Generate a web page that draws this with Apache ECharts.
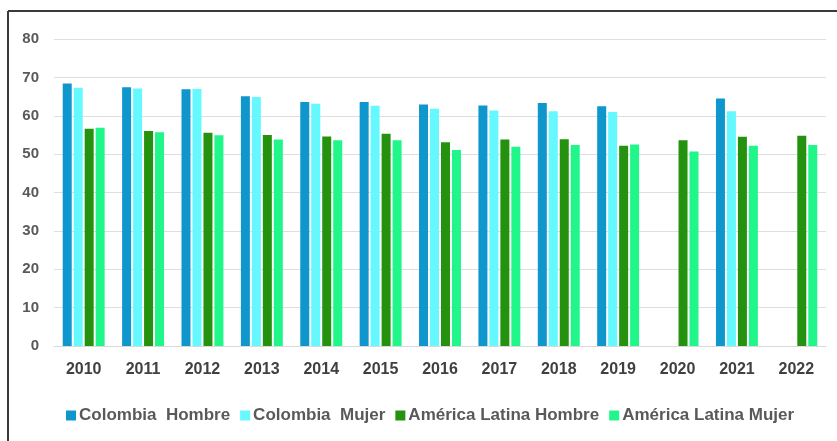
<!DOCTYPE html>
<html>
<head>
<meta charset="utf-8">
<script src="https://cdn.jsdelivr.net/npm/echarts@6/dist/echarts.min.js"></script>
<style>html,body{margin:0;padding:0;background:#fff}#c{width:837px;height:441px}</style>
</head>
<body>
<div id="c"></div>
<script>
var years = ['2010','2011','2012','2013','2014','2015','2016','2017','2018','2019','2020','2021','2022'];
var colombiaHombre = [68.4, 67.4, 66.9, 65.1, 63.6, 63.6, 62.9, 62.7, 63.3, 62.5, null, 64.5, null];
var colombiaMujer  = [67.3, 67.1, 67.0, 64.9, 63.1, 62.6, 61.8, 61.4, 61.2, 61.0, null, 61.2, null];
var alHombre       = [56.6, 56.0, 55.6, 55.0, 54.6, 55.3, 53.1, 53.8, 53.9, 52.2, 53.6, 54.5, 54.8];
var alMujer        = [56.9, 55.7, 54.9, 53.8, 53.6, 53.6, 51.1, 51.9, 52.4, 52.5, 50.7, 52.2, 52.4];
var seriesNames = ['Colombia  Hombre', 'Colombia  Mujer', 'América Latina Hombre', 'América Latina Mujer'];
var yTicks = [0, 10, 20, 30, 40, 50, 60, 70, 80];

var colors = ['#0f96cc', '#66f8ff', '#24920f', '#20f68a'];
var font = '"Liberation Sans", Arial, sans-serif';
var dataSets = [colombiaHombre, colombiaMujer, alHombre, alMujer];

var chart = echarts.init(document.getElementById('c'), null, {renderer: 'canvas'});
chart.setOption({
  animation: false,
  backgroundColor: '#ffffff',
  color: colors,
  grid: {left: 54, right: 11, top: 39, bottom: 95, containLabel: false},
  legend: {
    left: 61, top: 402,
    icon: 'rect', itemWidth: 10, itemHeight: 10, itemGap: 10,
    textStyle: {fontFamily: font, fontWeight: 'bold', fontSize: 17, color: '#595959', padding: [0, 0, 0, -2]},
    data: seriesNames
  },
  xAxis: {
    type: 'category', data: years,
    axisLine: {show: true, lineStyle: {color: '#d9d9d9', width: 1}},
    axisTick: {show: false},
    axisLabel: {fontFamily: font, fontWeight: 'bold', fontSize: 16, color: '#404040', margin: 16}
  },
  yAxis: {
    type: 'value', min: yTicks[0], max: yTicks[yTicks.length - 1], interval: 10,
    axisLine: {show: false}, axisTick: {show: false},
    splitLine: {lineStyle: {color: '#dedede', width: 1}},
    axisLabel: {fontFamily: font, fontWeight: 'bold', fontSize: 15, color: '#595959', margin: 15}
  },
  series: seriesNames.map(function (n, i) {
    return {
      name: n, type: 'bar', data: dataSets[i],
      barWidth: 9, barGap: '22%',
      itemStyle: {color: colors[i]}
    };
  }),
  graphic: [
    {type: 'line', shape: {x1: 8, y1: 11, x2: 837, y2: 11}, style: {stroke: '#3a3a3a', lineWidth: 2}},
    {type: 'line', shape: {x1: 8, y1: 11, x2: 8, y2: 441}, style: {stroke: '#3a3a3a', lineWidth: 2}}
  ]
});
</script>
</body>
</html>
